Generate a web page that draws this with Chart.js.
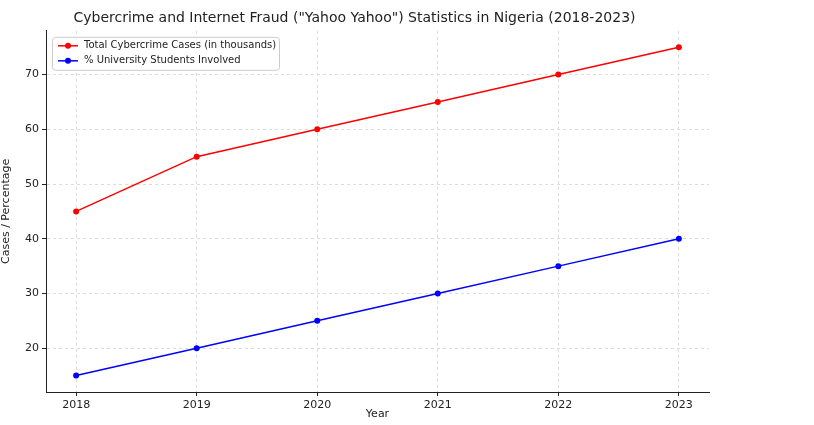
<!DOCTYPE html>
<html><head><meta charset="utf-8">
<script src="https://cdn.jsdelivr.net/npm/chart.js@4"></script>
<style>html,body{margin:0;padding:0;background:#fff}#w{width:814px;height:425px}</style>
</head><body><div id="w"><canvas id="c"></canvas></div>
<script>
const years=[2018,2019,2020,2021,2022,2023];
const cases=[45,55,60,65,70,75];
const students=[15,20,25,30,35,40];
const seriesNames=["Total Cybercrime Cases (in thousands)","% University Students Involved"];
const F="DejaVu Sans";
const legendPlugin={id:'lg',afterDraw(ch){const c=ch.ctx,a=ch.chartArea;const x=a.left+6,y=a.top+6,w=227,h=33;
c.save();c.fillStyle='rgba(255,255,255,0.85)';c.strokeStyle='#ccc';c.lineWidth=1;
c.beginPath();c.roundRect(x+.5,y+.5,w,h,3);c.fill();c.stroke();
ch.data.datasets.forEach((d,i)=>{const yy=y+9+i*15;c.strokeStyle=d.borderColor;c.lineWidth=1.5;c.beginPath();c.moveTo(x+6,yy);c.lineTo(x+26,yy);c.stroke();
c.fillStyle=d.borderColor;c.beginPath();c.arc(x+16,yy,3,0,7);c.fill();
c.fillStyle='#222';c.font='10px '+F;c.textBaseline='middle';c.fillText(d.label,x+32,yy);});c.restore();}};
new Chart(document.getElementById('c'),{type:'line',
data:{datasets:[
{label:seriesNames[0],data:years.map((y,i)=>({x:y,y:cases[i]})),borderColor:'#ff0000',backgroundColor:'#ff0000',borderWidth:1.5,pointRadius:3,pointBorderWidth:0},
{label:seriesNames[1],data:years.map((y,i)=>({x:y,y:students[i]})),borderColor:'#0000ff',backgroundColor:'#0000ff',borderWidth:1.5,pointRadius:3,pointBorderWidth:0}]},
options:{responsive:true,maintainAspectRatio:false,animation:false,
layout:{padding:{right:105,top:0,left:0,bottom:0}},
plugins:{legend:{display:false},tooltip:{enabled:false},
title:{display:true,text:'Cybercrime and Internet Fraud ("Yahoo Yahoo") Statistics in Nigeria (2018-2023)',color:'#222',font:{family:F,size:14,weight:'normal'},padding:{top:10,bottom:4}}},
scales:{
x:{type:'linear',min:2017.75,max:2023.25,afterBuildTicks(s){s.ticks=years.map(v=>({value:v}));},
ticks:{color:'#222',font:{family:F,size:11},callback:v=>String(v)},
grid:{color:'#ddd',drawTicks:true,tickColor:'#222',tickLength:4,tickBorderDash:[]},border:{color:'#222',dash:[3,3]},
title:{display:true,text:'Year',color:'#222',font:{family:F,size:11},padding:{top:0}},
afterFit(s){s.height=33;}},
y:{min:12,max:78,afterBuildTicks(s){s.ticks=[20,30,40,50,60,70].map(v=>({value:v}));},
ticks:{color:'#222',font:{family:F,size:11}},
grid:{color:'#ddd',tickColor:'#222',tickLength:4},border:{color:'#222',dash:[3,3]},
title:{display:true,text:'Cases / Percentage',color:'#222',font:{family:F,size:11},padding:0},
afterFit(s){s.width=46;}}}},
plugins:[legendPlugin]});
</script></body></html>
